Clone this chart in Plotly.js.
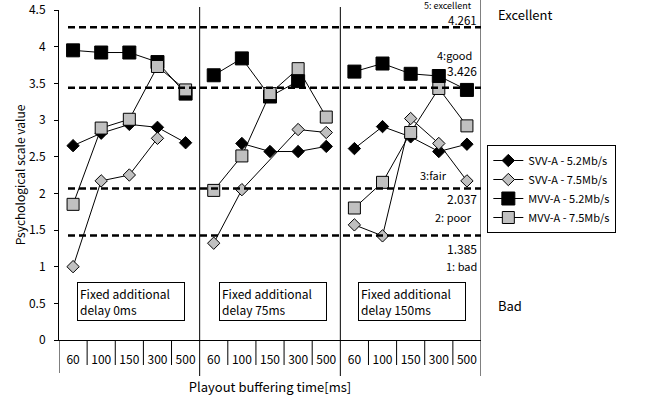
<!DOCTYPE html>
<html>
<head>
<meta charset="utf-8">
<script src="https://cdn.plot.ly/plotly-3.0.1.min.js"></script>
<style>html,body{margin:0;padding:0;background:#fff;}</style>
</head>
<body>
<div id="chart" style="width:646px;height:397px;"></div>
<script>
// ---- data ----
const bufferingTimes = ['60', '100', '150', '300', '500'];
const delayLabels = ['Fixed additional<br>delay 0ms', 'Fixed additional<br>delay 75ms', 'Fixed additional<br>delay 150ms'];
const seriesNames = ['SVV-A - 5.2Mb/s', 'SVV-A - 7.5Mb/s', 'MVV-A - 5.2Mb/s', 'MVV-A - 7.5Mb/s'];
// 15 values each: delay 0ms (5), delay 75ms (5), delay 150ms (5)
const svvA52 = [2.65, 2.82, 2.94, 2.90, 2.69,  null, 2.68, 2.57, 2.57, 2.64,  2.61, 2.91, 2.77, 2.57, 2.67];
const svvA75 = [1.00, 2.17, 2.25, 2.75, null,  1.32, 2.05, null, 2.87, 2.83,  1.57, 1.42, 3.02, 2.68, 2.17];
const mvvA52 = [3.95, 3.92, 3.92, 3.79, 3.36,  3.61, 3.84, 3.32, 3.53, null,  3.66, 3.77, 3.63, 3.60, 3.41];
const mvvA75 = [1.85, 2.89, 3.01, 3.73, 3.41,  2.04, 2.51, 3.36, 3.70, 3.04,  1.80, 2.15, 2.83, 3.43, 2.92];
const thresholds = [4.265, 3.44, 2.065, 1.425];
const thresholdText = ['4.261', '3.426', '2.037', '1.385'];
const scaleText = ['5: excellent', '4:good', '3:fair', '2: poor', '1: bad'];

const FONT = '"Noto Sans CJK JP", "Noto Sans", sans-serif';
const allSeries = [svvA52, svvA75, mvvA52, mvvA75];
const styles = [
  {symbol: 'diamond', size: 9.5, color: '#000000'},
  {symbol: 'diamond', size: 9.5, color: '#c0c0c0'},
  {symbol: 'square', size: 13, color: '#000000'},
  {symbol: 'square', size: 12, color: '#c0c0c0'}
];
const nCat = bufferingTimes.length;
const nGrp = delayLabels.length;

const traces = [];
allSeries.forEach((vals, s) => {
  for (let g = 0; g < nGrp; g++) {
    const xs = [], ys = [];
    for (let i = 0; i < nCat; i++) {
      const v = vals[g * nCat + i];
      if (v !== null) { xs.push(g * nCat + i); ys.push(v); }
    }
    traces.push({
      type: 'scatter', mode: 'lines+markers', x: xs, y: ys,
      name: seriesNames[s], legendgroup: 's' + s, showlegend: g === 0,
      line: {color: '#000', width: 1},
      marker: {symbol: styles[s].symbol, size: styles[s].size, color: styles[s].color,
               line: {color: '#000', width: 1}},
      hoverinfo: 'skip'
    });
  }
});

const tickvals = [], ticktext = [];
for (let g = 0; g < nGrp; g++) for (let i = 0; i < nCat; i++) { tickvals.push(g * nCat + i); ticktext.push(bufferingTimes[i]); }

const plotH = 330;
const px = p => p / plotH;
const shapes = [];
const xMin = -0.5, xMax = nGrp * nCat - 0.5;
// left axis extension below
shapes.push({type: 'line', xref: 'x', yref: 'paper', x0: xMin, x1: xMin, y0: -px(33), y1: 0, line: {color: '#000', width: 1}});
// group separators and right border
for (let g = 1; g <= nGrp; g++) {
  const xv = g * nCat - 0.5;
  const top = g === nGrp ? px(340) : px(333);
  shapes.push({type: 'line', xref: 'x', yref: 'paper', x0: xv, x1: xv, y0: -px(36), y1: top, line: {color: '#000', width: 1}});
}
// category dividers under the axis
for (let g = 0; g < nGrp; g++) for (let i = 0; i < nCat - 1; i++) {
  const xv = g * nCat + i + 0.5;
  shapes.push({type: 'line', xref: 'x', yref: 'paper', x0: xv, x1: xv, y0: -px(25), y1: 0, line: {color: '#000', width: 1}});
}
// threshold dashed lines
thresholds.forEach(t => {
  shapes.push({type: 'line', xref: 'x', yref: 'y', x0: -0.18, x1: xMax, y0: t, y1: t, line: {color: '#000', width: 2.5, dash: '7px,4px'}});
});

const annotations = [];
const note = (text, x, y, opts) => Object.assign({text, x, y, showarrow: false, borderpad: 0, font: {family: FONT, size: 11, color: '#000'}}, opts);
const numFont = {family: FONT, size: 12, color: '#000'};
// labels next to thresholds
annotations.push(note(scaleText[0], xMax, thresholds[0], {xref: 'x', yref: 'y', xanchor: 'right', yanchor: 'middle', xshift: -8, yshift: 21.5, font: {family: FONT, size: 9, color: '#000'}}));
annotations.push(note(thresholdText[0], xMax, thresholds[0], {xref: 'x', yref: 'y', xanchor: 'right', yanchor: 'middle', xshift: -3, yshift: 7.5, font: {family: FONT, size: 11.5, color: '#000'}}));
annotations.push(note(scaleText[1], xMax, thresholds[1], {xref: 'x', yref: 'y', xanchor: 'right', yanchor: 'middle', xshift: -8, yshift: 33}));
annotations.push(note(thresholdText[1], xMax, thresholds[1], {xref: 'x', yref: 'y', xanchor: 'right', yanchor: 'middle', xshift: -3, yshift: 17, font: numFont}));
annotations.push(note(scaleText[2], xMax, thresholds[2], {xref: 'x', yref: 'y', xanchor: 'right', yanchor: 'middle', xshift: -33, yshift: 14}));
annotations.push(note(thresholdText[2], xMax, thresholds[2], {xref: 'x', yref: 'y', xanchor: 'right', yanchor: 'middle', xshift: -3, yshift: -10, font: numFont}));
annotations.push(note(scaleText[3], xMax, thresholds[2], {xref: 'x', yref: 'y', xanchor: 'right', yanchor: 'middle', xshift: -8, yshift: -28}));
annotations.push(note(thresholdText[3], xMax, thresholds[3], {xref: 'x', yref: 'y', xanchor: 'right', yanchor: 'middle', xshift: -3, yshift: -13, font: numFont}));
annotations.push(note(scaleText[4], xMax, thresholds[3], {xref: 'x', yref: 'y', xanchor: 'right', yanchor: 'middle', xshift: -3, yshift: -30}));
// Excellent / Bad
annotations.push(note('Excellent', 1.037, px(325), {xref: 'paper', yref: 'paper', xanchor: 'left', yanchor: 'middle', font: {family: FONT, size: 13, color: '#000'}}));
annotations.push(note('Bad', 1.037, px(35), {xref: 'paper', yref: 'paper', xanchor: 'left', yanchor: 'middle', font: {family: FONT, size: 13, color: '#000'}}));
// delay boxes
delayLabels.forEach((t, g) => {
  annotations.push(note(t, g * nCat + 2.05 + (g === 1 ? 0.05 : 0), 0.52, {xref: 'x', yref: 'y', xanchor: 'center', yanchor: 'middle', align: 'left',
    bgcolor: '#fff', bordercolor: '#000', borderwidth: 1, borderpad: 2, width: 102,
    font: {family: FONT, size: 12, color: '#000'}}));
});

const layout = {
  width: 646, height: 397,
  margin: {l: 59, r: 165, t: 10, b: 57},
  paper_bgcolor: '#fff', plot_bgcolor: '#fff',
  font: {family: FONT, size: 12, color: '#000'},
  showlegend: true,
  legend: {x: 1.015, y: px(195), xanchor: 'left', yanchor: 'top', bordercolor: '#000', borderwidth: 1,
           bgcolor: '#fff', font: {family: FONT, size: 11, color: '#000'}, itemwidth: 30, tracegroupgap: 0},
  xaxis: {range: [xMin, xMax], tickvals, ticktext, showline: true, linecolor: '#000', linewidth: 1,
          showgrid: false, zeroline: false, ticks: '', ticklabelstandoff: 9, fixedrange: true,
          tickfont: {family: FONT, size: 12, color: '#000'},
          title: {text: 'Playout buffering time[ms]', font: {family: FONT, size: 13, color: '#000'}, standoff: 16}},
  yaxis: {range: [0, 4.5], dtick: 0.5, tick0: 0, showline: true, linecolor: '#000', linewidth: 1,
          showgrid: false, zeroline: false, ticks: 'outside', ticklen: 4, tickcolor: '#000', ticklabelstandoff: 6,
          tickfont: {family: FONT, size: 12, color: '#000'}, fixedrange: true,
          title: {text: 'Psychological scale value', font: {family: FONT, size: 12, color: '#000'}, standoff: 0}},
  shapes, annotations
};

Plotly.newPlot('chart', traces, layout, {staticPlot: true, displayModeBar: false});
</script>
</body>
</html>
